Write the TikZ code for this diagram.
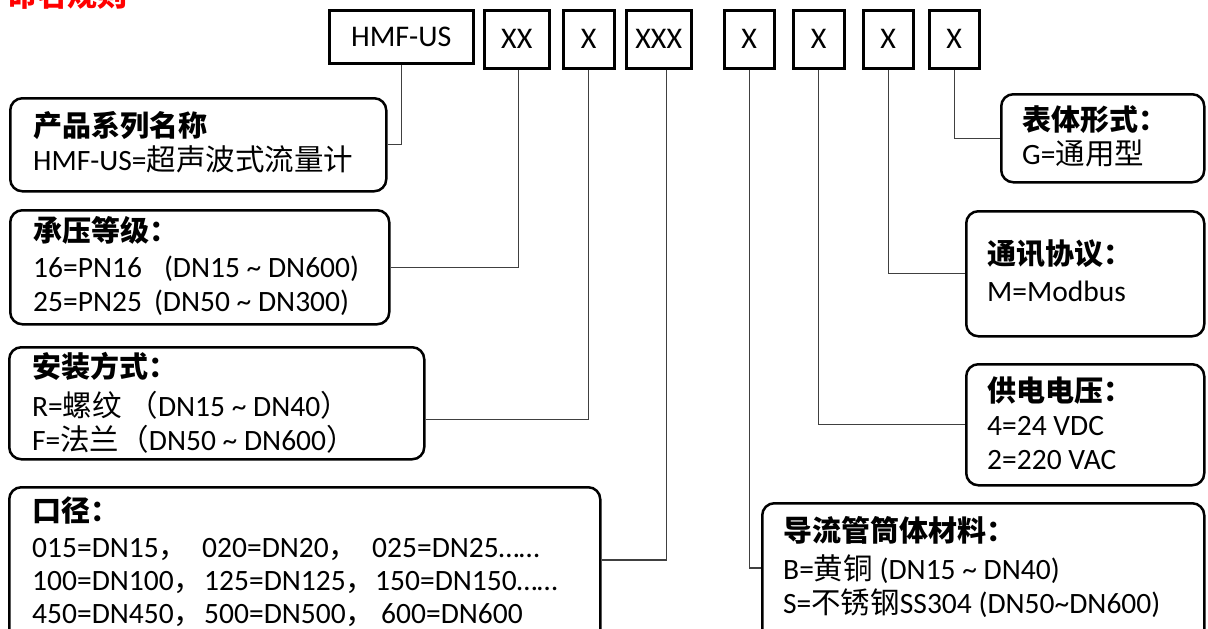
\documentclass[tikz,border=0pt]{standalone}
\usepackage{fontspec}
\setmainfont{Carlito}
\newfontfamily\cjk{Noto Sans CJK SC}
\newcommand\zh[1]{{\cjk #1}}
\newcommand\tl{\textasciitilde{}}
\tikzset{
  box/.style={draw, line width=2.5pt, rounded corners=12pt, anchor=north west, inner sep=0pt},
  code/.style={draw, line width=2.5pt, anchor=north west, inner sep=0pt, minimum height=58pt, font=\fontsize{30}{36}\selectfont},
  conn/.style={draw=black!75, line width=1.3pt},
  ttl/.style={anchor=base west, inner sep=0pt, font=\fontsize{29}{35}\selectfont\cjk\bfseries},
  txt/.style={anchor=base west, inner sep=0pt, font=\fontsize{29.5}{35}\selectfont},
}
\begin{document}
\begin{tikzpicture}[x=1pt,y=-1pt]
\useasboundingbox (0,0) rectangle (1208,629);
\fill[white] (0,0) rectangle (1208,629);
\clip (0,0) rectangle (1208,629);

\node[anchor=base west, inner sep=0pt, text=red, font=\fontsize{30}{36}\selectfont\cjk\bfseries] (title) at (7,6) {命名规则};

% code boxes
\node[code, minimum width=144pt, minimum height=53pt] (c0) at (328,9) {HMF-US};
\node[code, minimum width=65pt] (c1) at (483,9) {XX};
\node[code, minimum width=51pt] (c2) at (562,9) {X};
\node[code, minimum width=65pt] (c3) at (625,9) {XXX};
\node[code, minimum width=50pt] (c4) at (723,9) {X};
\node[code, minimum width=51pt] (c5) at (792,9) {X};
\node[code, minimum width=50pt] (c6) at (862,9) {X};
\node[code, minimum width=50pt] (c7) at (928,9) {X};

% description boxes
\node[box, minimum width=376pt, minimum height=93pt] (b1) at (9,97) {};
\node[box, minimum width=379pt, minimum height=114pt] (b2) at (9,209) {};
\node[box, minimum width=415pt, minimum height=112pt] (b3) at (8,346) {};
\node[box, minimum width=591pt, minimum height=200pt] (b4) at (8,486) {};
\node[box, minimum width=442pt, minimum height=200pt] (b5) at (761,502) {};
\node[box, minimum width=203pt, minimum height=88pt] (b6) at (1000,93) {};
\node[box, minimum width=238pt, minimum height=125pt] (b7) at (965,210) {};
\node[box, minimum width=238pt, minimum height=121pt] (b8) at (965,363) {};

% connectors
\draw[conn] (c0.south) |- (b1.east);
\draw[conn] ([xshift=1.5pt]c1.south) |- (b2.east);
\draw[conn] (c2.south) |- ([yshift=-16pt]b3.east);
\draw[conn] ([xshift=7.5pt]c3.south) |- ([yshift=-74pt]b4.north east);
\draw[conn] (c4.south) |- ([yshift=-66pt]b5.north west);
\draw[conn] (c5.south) |- (b8.west);
\draw[conn] (c6.south) |- (b7.west);
\draw[conn] (c7.south) |- (b6.west);

% texts
\node[ttl] (t1) at (33,136) {产品系列名称};
\node[txt] (t1a) at (33,170) {HMF-US=\zh{超声波式流量计}};

\node[ttl] (t2) at (33,241) {承压等级：};
\node[txt] (t2a) at (33,277) {16=PN16\hspace{22pt}(DN15 \tl{} DN600)};
\node[txt] (t2b) at (33,311) {25=PN25\hspace{12pt}(DN50 \tl{} DN300)};

\node[ttl] (t3) at (32,377) {安装方式：};
\node[txt] (t3a) at (32,416) {R=\zh{螺纹 （}DN15 \tl{} DN40\zh{）}};
\node[txt] (t3b) at (32,450) {F=\zh{法兰（}DN50 \tl{} DN600\zh{）}};

\node[ttl] (t4) at (32,521) {口径：};
\node[txt] (t4a) at (32,557) {\makebox[170pt][l]{015=DN15\zh{，}}\makebox[170pt][l]{020=DN20\zh{，}}025=DN25……};
\node[txt] (t4b) at (32,590) {\makebox[172pt][l]{100=DN100\zh{，}}\makebox[171pt][l]{125=DN125\zh{，}}150=DN150……};
\node[txt] (t4c) at (32,623) {\makebox[172pt][l]{450=DN450\zh{，}}\makebox[177pt][l]{500=DN500\zh{，}}600=DN600};

\node[ttl] (t5) at (783,541) {导流管筒体材料：};
\node[txt] (t5a) at (783,579) {B=\zh{黄铜} (DN15 \tl{} DN40)};
\node[txt] (t5b) at (783,613) {S=\zh{不锈钢}SS304 (DN50\tl{}DN600)};

\node[ttl] (t6) at (1022,130) {表体形式：};
\node[txt] (t6a) at (1022,164) {G=\zh{通用型}};

\node[ttl] (t7) at (987,264) {通讯协议：};
\node[txt] (t7a) at (987,301) {M=Modbus};

\node[ttl] (t8) at (987,401) {供电电压：};
\node[txt] (t8a) at (987,435) {4=24 VDC};
\node[txt] (t8b) at (987,469) {2=220 VAC};
\end{tikzpicture}
\end{document}
